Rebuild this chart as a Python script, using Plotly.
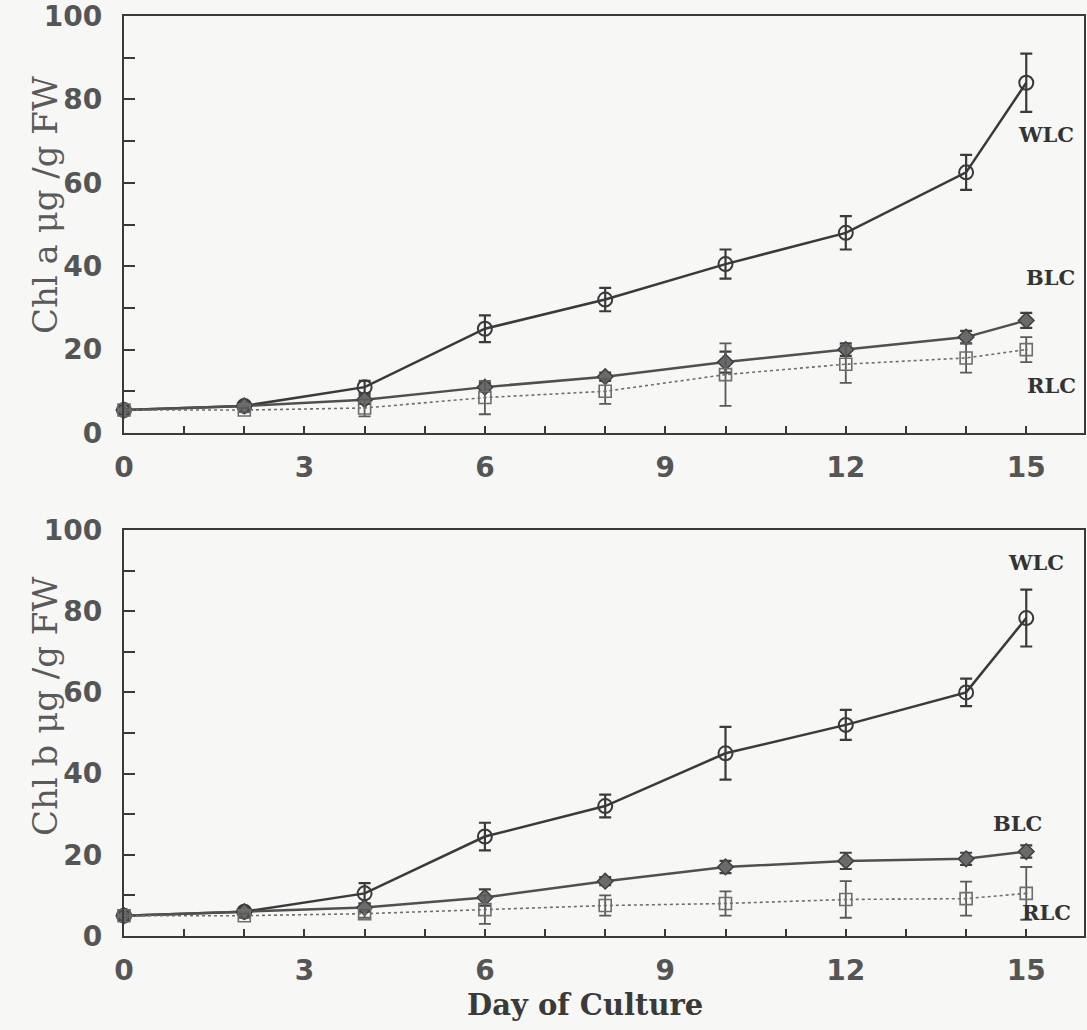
import plotly.graph_objects as go

days = [0, 2, 4, 6, 8, 10, 12, 14, 15]

# Panel A: Chl a
chla_wlc = [5.5, 6.5, 11, 25, 32, 40.5, 48, 62.5, 84]
chla_wlc_err = [0.5, 0.5, 1.5, 3.2, 2.8, 3.5, 4, 4.2, 7]
chla_blc = [5.5, 6.5, 8, 11, 13.5, 17, 20, 23, 27]
chla_blc_err = [0.3, 0.5, 1, 1, 1, 2.5, 1.5, 1.5, 1.8]
chla_rlc = [5.5, 5.5, 6, 8.5, 10, 14, 16.5, 18, 20]
chla_rlc_err = [0.3, 0.5, 2, 4, 3, 7.5, 4.5, 3.5, 3]

# Panel B: Chl b
chlb_wlc = [5, 6, 10.5, 24.5, 32, 45, 52, 60, 78.3]
chlb_wlc_err = [0.5, 0.5, 2.5, 3.4, 2.8, 6.5, 3.7, 3.4, 7]
chlb_blc = [5, 6, 7, 9.5, 13.5, 17, 18.5, 19, 20.8]
chlb_blc_err = [0.3, 0.5, 1, 2, 1, 1.5, 2, 1.5, 1.5]
chlb_rlc = [5, 5, 5.5, 6.5, 7.5, 8, 9, 9.2, 10.5]
chlb_rlc_err = [0.3, 0.5, 1, 3.5, 2.5, 3, 4.5, 4.2, 6.5]

series_names = ["WLC", "BLC", "RLC"]
x_tick_vals = [0, 3, 6, 9, 12, 15]
y_tick_vals = [0, 20, 40, 60, 80, 100]
y_titles = ["Chl a μg /g FW", "Chl b μg /g FW"]
x_title = "Day of Culture"

W, H = 1087, 1030
BG = "#f7f7f5"
DARK = "#3a3a3a"

fig = go.Figure()

styles = {
    "WLC": dict(mode="lines+markers",
                line=dict(color=DARK, width=2.5),
                marker=dict(symbol="circle-open", size=14, color=DARK, line=dict(width=2))),
    "BLC": dict(mode="lines+markers",
                line=dict(color="#505050", width=2.5),
                marker=dict(symbol="diamond", size=12, color="#6a6a6a", line=dict(width=1.5, color="#404040"))),
    "RLC": dict(mode="lines+markers",
                line=dict(color="#6e6e6e", width=1.6, dash="dot"),
                marker=dict(symbol="square-open-dot", size=12, color="#6e6e6e", line=dict(width=1.6))),
}
err_style = {
    "WLC": dict(color=DARK, thickness=2.2, width=6),
    "BLC": dict(color="#404040", thickness=2.2, width=6),
    "RLC": dict(color="#5a5a5a", thickness=1.8, width=6),
}

panels = [
    ("x", "y", [chla_wlc, chla_blc, chla_rlc], [chla_wlc_err, chla_blc_err, chla_rlc_err]),
    ("x2", "y2", [chlb_wlc, chlb_blc, chlb_rlc], [chlb_wlc_err, chlb_blc_err, chlb_rlc_err]),
]
for xa, ya, vals, errs in panels:
    for name, v, e in zip(series_names, vals, errs):
        fig.add_trace(go.Scatter(
            x=days, y=v, name=name, xaxis=xa, yaxis=ya,
            error_y=dict(type="data", array=e, visible=True, **err_style[name]),
            cliponaxis=False, showlegend=False, **styles[name]))

xdom = [124 / W, 1084 / W]
top_dom = [1 - 433 / H, 1 - 16 / H]
bot_dom = [1 - 936 / H, 1 - 530 / H]

tickfont = dict(family="DejaVu Sans", size=28, color="#555555", weight="bold")

def xaxis(anchor):
    return dict(domain=xdom, anchor=anchor, range=[0, 15.96], automargin=False,
                tickvals=x_tick_vals, ticks="inside", ticklen=7, tickwidth=2,
                tickcolor=DARK, showline=True, linecolor=DARK, linewidth=2.2,
                mirror=True, showgrid=False, zeroline=False,
                minor=dict(dtick=1, ticks="inside", ticklen=7, tickwidth=2, tickcolor=DARK),
                tickfont=tickfont, ticklabelstandoff=8, ticklabeloverflow="allow")

def yaxis(anchor, dom):
    return dict(domain=dom, anchor=anchor, range=[0, 100], automargin=False,
                tickvals=y_tick_vals, ticks="inside", ticklen=11, tickwidth=2,
                tickcolor=DARK, showline=True, linecolor=DARK, linewidth=2.2,
                mirror=True, showgrid=False, zeroline=False,
                minor=dict(dtick=10, ticks="inside", ticklen=11, tickwidth=2, tickcolor=DARK),
                tickfont=tickfont, ticklabelstandoff=14, ticklabeloverflow="allow")

fig.update_layout(
    width=W, height=H,
    margin=dict(l=0, r=0, t=0, b=0, pad=0, autoexpand=False),
    paper_bgcolor=BG, plot_bgcolor=BG,
    xaxis=xaxis("y"), yaxis=yaxis("x", top_dom),
    xaxis2=xaxis("y2"), yaxis2=yaxis("x2", bot_dom),
)

ann = []
lab_font = dict(family="DejaVu Serif", size=21, color="#333333", weight="bold")
top_labels = [(15.33, 71.5), (15.4, 37.4), (15.42, 11.5)]
bot_labels = [(15.17, 92), (14.85, 27.8), (15.33, 5.7)]
for (xr, yr), pos in [(("x", "y"), top_labels), (("x2", "y2"), bot_labels)]:
    for name, (px, py) in zip(series_names, pos):
        ann.append(dict(x=px, y=py, xref=xr, yref=yr, text=name, showarrow=False,
                        xanchor="center", yanchor="middle", font=lab_font))

title_font = dict(family="DejaVu Serif", size=34, color="#5a5a5a")
ann.append(dict(x=45 / W, y=1 - 205 / H, xref="paper", yref="paper", text=y_titles[0],
                textangle=-90, showarrow=False, xanchor="center", yanchor="middle",
                font=title_font))
ann.append(dict(x=45 / W, y=1 - 707 / H, xref="paper", yref="paper", text=y_titles[1],
                textangle=-90, showarrow=False, xanchor="center", yanchor="middle",
                font=title_font))
ann.append(dict(x=585 / W, y=1 - 1005 / H, xref="paper", yref="paper", text=x_title,
                showarrow=False, xanchor="center", yanchor="middle",
                font=dict(family="DejaVu Serif", size=29, color="#3a3a3a", weight="bold")))
fig.update_layout(annotations=ann)

fig.write_html("out.html", config={"displayModeBar": False},
               post_script="document.body.style.margin='0px';document.body.style.overflow='hidden';")
